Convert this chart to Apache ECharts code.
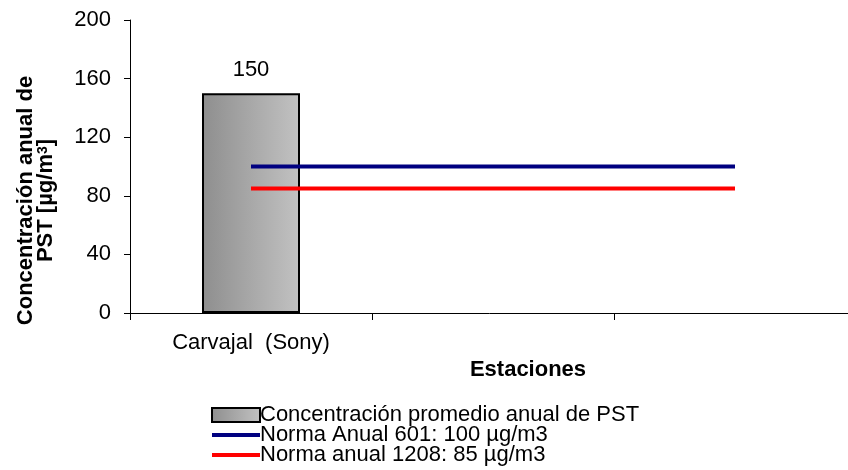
<!DOCTYPE html>
<html><head><meta charset="utf-8">
<script src="https://cdn.jsdelivr.net/npm/echarts@6/dist/echarts.min.js"></script>
<style>html,body{margin:0;padding:0;background:#fff}#c{width:848px;height:470px}</style>
</head><body><div id="c"></div>
<script>
const categories = ["Carvajal  (Sony)", "", ""];
const pstValues = [150, null, null];
const norma601 = [100, 100, 100];
const norma1208 = [85, 85, 85];
const yTicks = { min: 0, max: 200, interval: 40 };

const FONT = '"Liberation Sans", Arial, sans-serif';
const chart = echarts.init(document.getElementById('c'));
chart.setOption({
  animation: false,
  backgroundColor: '#fff',
  textStyle: { fontFamily: FONT, color: '#000' },
  grid: { left: 130, top: 20, width: 726, height: 293, containLabel: false, outerBoundsMode: 'none' },
  legend: {
    orient: 'vertical', left: 206, top: 399, itemGap: -2, height: 70,
    itemWidth: 48, itemHeight: 14,
    textStyle: { fontFamily: FONT, fontSize: 22, lineHeight: 20, color: '#000', padding: [0,0,0,-5] },
    data: [
      { name: 'Concentración promedio anual de PST', icon: 'rect' },
      { name: 'Norma Anual 601: 100 µg/m3', icon: 'path://M0,0H48V4H0Z' },
      { name: 'Norma anual 1208: 85 µg/m3', icon: 'path://M0,0H48V4H0Z' }
    ]
  },
  xAxis: {
    type: 'category', data: categories, boundaryGap: true,
    name: 'Estaciones', nameLocation: 'middle', nameGap: 45,
    nameTextStyle: { fontFamily: FONT, fontSize: 22, fontWeight: 'bold', color: '#000', padding: [0,0,0,70] },
    axisLine: { lineStyle: { color: '#000', width: 1 } },
    axisTick: { show: true, length: 7, lineStyle: { color: '#000' } },
    axisLabel: { fontFamily: FONT, fontSize: 22, color: '#000', margin: 19 }
  },
  yAxis: {
    type: 'value', min: yTicks.min, max: yTicks.max, interval: yTicks.interval,
    name: '{t|Concentración anual de}\n{t|PST [µg/m}{s|3}{t|]}',
    nameLocation: 'middle', nameGap: 74, nameRotate: 90,
    nameTextStyle: {
      fontFamily: FONT, fontWeight: 'bold', color: '#000', padding: [0, 68, 0, 0],
      rich: {
        t: { fontFamily: FONT, fontSize: 22, fontWeight: 'bold', color: '#000', lineHeight: 20 },
        s: { fontFamily: FONT, fontSize: 14, fontWeight: 'bold', color: '#000', verticalAlign: 'top', lineHeight: 20, padding: [0,0,12,0] }
      }
    },
    axisLine: { show: true, lineStyle: { color: '#000', width: 1 } },
    axisTick: { show: true, length: 6, lineStyle: { color: '#000' } },
    axisLabel: { fontFamily: FONT, fontSize: 22, color: '#000', margin: 19 },
    splitLine: { show: false }
  },
  series: [
    {
      name: 'Concentración promedio anual de PST', type: 'bar', data: pstValues, barWidth: 98,
      itemStyle: {
        color: new echarts.graphic.LinearGradient(0, 0, 1, 0, [
          { offset: 0, color: '#8e8e8e' }, { offset: 1, color: '#c2c2c2' }
        ]),
        borderColor: '#000', borderWidth: 2
      },
      label: { show: true, position: 'top', distance: 12, fontFamily: FONT, fontSize: 22, color: '#000' }
    },
    {
      name: 'Norma Anual 601: 100 µg/m3', type: 'line', data: norma601, symbol: 'none',
      lineStyle: { color: '#000080', width: 4 }, itemStyle: { color: '#000080' }
    },
    {
      name: 'Norma anual 1208: 85 µg/m3', type: 'line', data: norma1208, symbol: 'none',
      lineStyle: { color: '#ff0000', width: 4 }, itemStyle: { color: '#ff0000' }
    }
  ]
});
</script></body></html>
